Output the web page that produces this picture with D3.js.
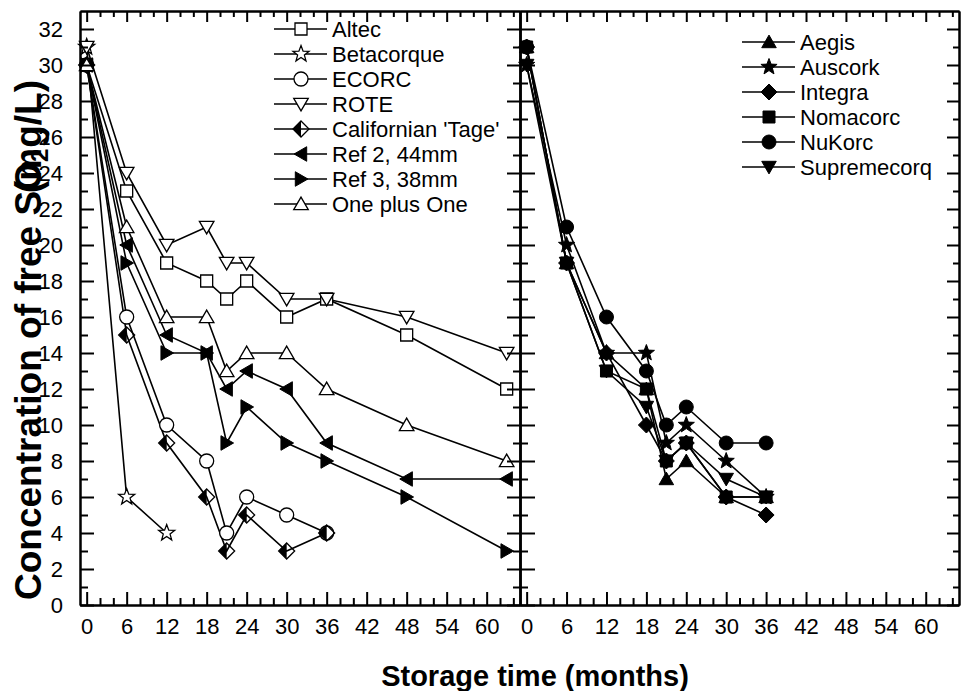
<!DOCTYPE html>
<html>
<head>
<meta charset="utf-8">
<script src="https://cdn.jsdelivr.net/npm/d3@7"></script>
<style>
    body { margin: 0; background: #fff; }
    svg { display: block; font-family: 'Liberation Sans', Arial, sans-serif; }
    .axis path, .axis line { stroke: #000; stroke-width: 2; }
    .axis text { font-size: 22px; fill: #000; font-family: 'Liberation Sans', Arial, sans-serif; }
</style>
</head>
<body>
<div id="chart"></div>
<script>
// months sampled in each panel
var monthsLeft = [0, 6, 12, 18, 21, 24, 30, 36, 48, 63];
var monthsRight = [0, 6, 12, 18, 21, 24, 30, 36];

// left panel series (free SO2, mg/L)
var altec = [30, 23, 19, 18, 17, 18, 16, 17, 15, 12];
var betacorque = [31, 6, 4];
var ecorc = [30, 16, 10, 8, 4, 6, 5, 4];
var rote = [31, 24, 20, 21, 19, 19, 17, 17, 16, 14];
var californian = [30, 15, 9, 6, 3, 5, 3, 4];
var ref2 = [30, 20, 15, 14, 12, 13, 12, 9, 7, 7];
var ref3 = [30, 19, 14, 14, 9, 11, 9, 8, 6, 3];
var onePlusOne = [30, 21, 16, 16, 13, 14, 14, 12, 10, 8];

// right panel series
var aegis = [31, 19, 14, 12, 7, 8, 6, 6];
var auscork = [30, 20, 14, 14, 9, 10, 8, 6];
var integra = [31, 19, 14, 10, 8, 9, 6, 5];
var nomacorc = [31, 19, 13, 12, 8, 9, 6, 6];
var nukorc = [31, 21, 16, 13, 10, 11, 9, 9];
var supremecorq = [30, 19, 13, 11, 8, 9, 7, 6];

var xMajorTicks = [0, 6, 12, 18, 24, 30, 36, 42, 48, 54, 60];
var yMajorTicks = [0, 2, 4, 6, 8, 10, 12, 14, 16, 18, 20, 22, 24, 26, 28, 30, 32];

var leftSeries = [
    { name: 'Altec', values: altec, marker: 'square', fill: 'open' },
    { name: 'Betacorque', values: betacorque, marker: 'star', fill: 'open' },
    { name: 'ECORC', values: ecorc, marker: 'circle', fill: 'open' },
    { name: 'ROTE', values: rote, marker: 'triDown', fill: 'open' },
    { name: "Californian 'Tage'", values: californian, marker: 'diamond', fill: 'half' },
    { name: 'Ref 2, 44mm', values: ref2, marker: 'triLeft', fill: 'solid' },
    { name: 'Ref 3, 38mm', values: ref3, marker: 'triRight', fill: 'solid' },
    { name: 'One plus One', values: onePlusOne, marker: 'triUp', fill: 'open' }
];
var rightSeries = [
    { name: 'Aegis', values: aegis, marker: 'triUp', fill: 'solid' },
    { name: 'Auscork', values: auscork, marker: 'star', fill: 'solid' },
    { name: 'Integra', values: integra, marker: 'diamond', fill: 'solid' },
    { name: 'Nomacorc', values: nomacorc, marker: 'square', fill: 'solid' },
    { name: 'NuKorc', values: nukorc, marker: 'circle', fill: 'solid' },
    { name: 'Supremecorq', values: supremecorq, marker: 'triDown', fill: 'solid' }
];

var width = 961, height = 691;
var plotTop = 11, plotBottom = 605;
var svg = d3.select('#chart').append('svg')
    .attr('width', width)
    .attr('height', height);

var y = d3.scaleLinear().domain([0, 33]).range([plotBottom, plotTop]);
var xLeft = d3.scaleLinear().domain([-1, 65]).range([80, 520]);
var xRight = d3.scaleLinear().domain([-1, 65]).range([520, 959]);

var xMinor = d3.range(0, 65, 2).filter(function (v) { return v % 6 !== 0; });
var yMinor = d3.range(1, 32, 2);

// marker paths, centred on 0,0
function markerPath (type) {
    var r = 8;
    var p = d3.path();
    if (type === 'square') {
        p.rect(-6, -6, 12, 12);
    } else if (type === 'circle') {
        p.arc(0, 0, 7, 0, 2 * Math.PI);
    } else if (type === 'diamond') {
        p.moveTo(0, -r); p.lineTo(r, 0); p.lineTo(0, r); p.lineTo(-r, 0); p.closePath();
    } else if (type === 'star') {
        var ro = 8.5, ri = ro * 0.42;
        for (var i = 0; i < 10; i++) {
            var a = -Math.PI / 2 + i * Math.PI / 5;
            var rr = i % 2 === 0 ? ro : ri;
            if (i === 0) p.moveTo(rr * Math.cos(a), rr * Math.sin(a));
            else p.lineTo(rr * Math.cos(a), rr * Math.sin(a));
        }
        p.closePath();
    } else {
        var rot = { triUp: 0, triRight: 90, triDown: 180, triLeft: 270 }[type];
        var dx = type === 'triRight' ? -1.5 : type === 'triLeft' ? 1.5 : 0;
        var dy = type === 'triUp' ? 1.5 : type === 'triDown' ? -1.5 : 0;
        for (var j = 0; j < 3; j++) {
            var ang = (rot - 90 + j * 120) * Math.PI / 180;
            var px = r * 1.05 * Math.cos(ang) + dx, py = r * 1.05 * Math.sin(ang) + dy;
            if (j === 0) p.moveTo(px, py); else p.lineTo(px, py);
        }
        p.closePath();
    }
    return p.toString();
}

function drawMarker (g, s, cx, cy) {
    var m = g.append('g').attr('transform', 'translate(' + cx + ',' + cy + ')');
    if (s.fill === 'half') {
        var r = 8;
        m.append('path')
            .attr('d', 'M0,' + (-r) + 'L' + (-r) + ',0L0,' + r + 'Z')
            .attr('fill', '#000');
        m.append('path')
            .attr('d', markerPath('diamond'))
            .attr('fill', 'none')
            .attr('stroke', '#000')
            .attr('stroke-width', 1.3);
        return;
    }
    m.append('path')
        .attr('d', markerPath(s.marker))
        .attr('fill', s.fill === 'solid' ? '#000' : '#fff')
        .attr('stroke', '#000')
        .attr('stroke-width', s.fill === 'solid' ? 1 : 1.3);
}

function drawPanel (xScale, months, series) {
    var g = svg.append('g');
    var line = d3.line()
        .x(function (d) { return xScale(d[0]); })
        .y(function (d) { return y(d[1]); });
    series.forEach(function (s) {
        var pts = s.values.map(function (v, i) { return [months[i], v]; });
        g.append('path')
            .datum(pts)
            .attr('d', line)
            .attr('fill', 'none')
            .attr('stroke', '#000')
            .attr('stroke-width', 1.6);
    });
    series.forEach(function (s) {
        s.values.forEach(function (v, i) {
            drawMarker(g, s, xScale(months[i]), y(v));
        });
    });
}

drawPanel(xLeft, monthsLeft, leftSeries);
drawPanel(xRight, monthsRight, rightSeries);

// x axes, bottom and top, both panels
[xLeft, xRight].forEach(function (xs) {
    svg.append('g').attr('class', 'axis')
        .attr('transform', 'translate(0,' + plotBottom + ')')
        .call(d3.axisBottom(xs).tickValues(xMajorTicks).tickSize(-13).tickPadding(13).tickSizeOuter(0));
    svg.append('g').attr('class', 'axis')
        .attr('transform', 'translate(0,' + plotBottom + ')')
        .call(d3.axisBottom(xs).tickValues(xMinor).tickSize(-7).tickFormat('').tickSizeOuter(0));
    svg.append('g').attr('class', 'axis')
        .attr('transform', 'translate(0,' + plotTop + ')')
        .call(d3.axisTop(xs).tickValues(xMajorTicks).tickSize(-11).tickFormat('').tickSizeOuter(0));
    svg.append('g').attr('class', 'axis')
        .attr('transform', 'translate(0,' + plotTop + ')')
        .call(d3.axisTop(xs).tickValues(xMinor).tickSize(-6).tickFormat('').tickSizeOuter(0));
});

// y axes: outer left (labelled), middle divider (ticks both sides), right edge
svg.append('g').attr('class', 'axis')
    .attr('transform', 'translate(80,0)')
    .call(d3.axisLeft(y).tickValues(yMajorTicks).tickSize(-14).tickPadding(17).tickSizeOuter(0));
svg.append('g').attr('class', 'axis')
    .attr('transform', 'translate(80,0)')
    .call(d3.axisLeft(y).tickValues(yMinor).tickSize(-8).tickFormat('').tickSizeOuter(0));

svg.append('g').attr('class', 'axis')
    .attr('transform', 'translate(520,0)')
    .call(d3.axisLeft(y).tickValues(yMajorTicks).tickSize(13).tickFormat('').tickSizeOuter(0));
svg.append('g').attr('class', 'axis')
    .attr('transform', 'translate(520,0)')
    .call(d3.axisRight(y).tickValues(yMajorTicks).tickSize(15).tickFormat('').tickSizeOuter(0));
svg.append('g').attr('class', 'axis')
    .attr('transform', 'translate(520,0)')
    .call(d3.axisLeft(y).tickValues(yMinor).tickSize(7).tickFormat('').tickSizeOuter(0));
svg.append('g').attr('class', 'axis')
    .attr('transform', 'translate(520,0)')
    .call(d3.axisRight(y).tickValues(yMinor).tickSize(8).tickFormat('').tickSizeOuter(0));

svg.append('g').attr('class', 'axis')
    .attr('transform', 'translate(959,0)')
    .call(d3.axisRight(y).tickValues(yMajorTicks).tickSize(-12).tickFormat('').tickSizeOuter(0));
svg.append('g').attr('class', 'axis')
    .attr('transform', 'translate(959,0)')
    .call(d3.axisRight(y).tickValues(yMinor).tickSize(-6).tickFormat('').tickSizeOuter(0));

// legends
function drawLegend (series, x0, y0) {
    var lg = svg.append('g');
    series.forEach(function (s, i) {
        var yy = y0 + i * 25;
        lg.append('line')
            .attr('x1', x0).attr('x2', x0 + 53)
            .attr('y1', yy).attr('y2', yy)
            .attr('stroke', '#000').attr('stroke-width', 1.6);
        drawMarker(lg, s, x0 + 27, yy);
        lg.append('text')
            .attr('x', x0 + 58)
            .attr('y', yy)
            .attr('dy', '0.36em')
            .style('font-size', '22px')
            .text(s.name);
    });
}
drawLegend(leftSeries, 274, 29);
drawLegend(rightSeries, 742, 42);

// axis titles
svg.append('text')
    .attr('x', 535)
    .attr('y', 686)
    .attr('text-anchor', 'middle')
    .style('font-size', '29px')
    .style('font-weight', 'bold')
    .text('Storage time (months)');

var yt = svg.append('g').attr('transform', 'translate(41,0) rotate(-90)');
var t1 = yt.append('text')
    .attr('x', -600)
    .attr('y', 0)
    .style('font-size', '37px')
    .style('font-weight', 'bold');
t1.append('tspan').text('Concentration of free SO');
t1.append('tspan').attr('dy', 7).style('font-size', '24px').text('2');
yt.append('text')
    .attr('x', -80)
    .attr('y', 0)
    .attr('text-anchor', 'end')
    .style('font-size', '37px')
    .style('font-weight', 'bold')
    .text('(mg/L)');
</script>
</body>
</html>
